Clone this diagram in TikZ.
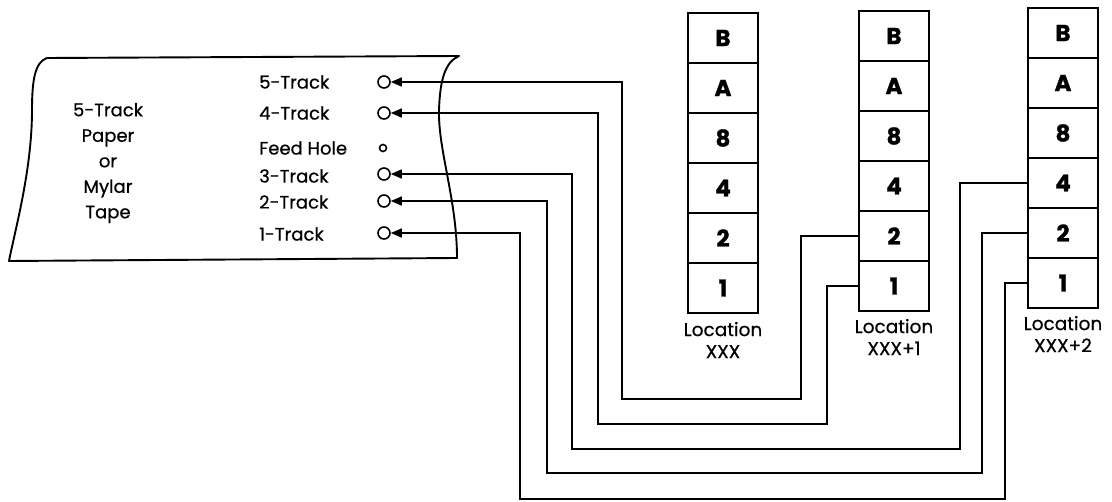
\documentclass[tikz,border=0pt]{standalone}
\usepackage{fontspec}
\setmainfont{Poppins}[FakeBold=1.2]
\newfontfamily\medfont{Poppins}[FakeBold=0.6]
\usetikzlibrary{arrows.meta}
\begin{document}
\begin{tikzpicture}[x=1pt,y=-1pt,
  outline/.style={line width=1.9pt},
  wire/.style={line width=1.6pt},
  feedwire/.style={wire,-{Triangle[length=11pt,width=9pt]}},
  hole/.style={circle,draw,line width=1.6pt,minimum size=12pt,inner sep=0pt},
  smallhole/.style={circle,draw,line width=1.6pt,minimum size=7pt,inner sep=0pt},
  cell/.style={draw,line width=1.6pt,minimum width=70pt,minimum height=50pt,inner sep=0pt,font=\fontsize{23}{23}\selectfont\bfseries},
  lbl/.style={font=\fontsize{18}{18}\medfont,anchor=west,inner sep=0pt},
  loc/.style={font=\fontsize{18.5}{22}\medfont,align=center,inner sep=0pt}]
\useasboundingbox (0,0) rectangle (1112,502);
% tape
\draw[outline,line join=round] (47,58) -- (459,56)
  .. controls (445,62) and (440,80) .. (439,110)
  .. controls (438,150) and (457,200) .. (457,258)
  -- (9,261)
  .. controls (15,230) and (32,170) .. (32,110)
  .. controls (32,80) and (35,62) .. (47,58) -- cycle;
\node[font=\fontsize{18}{25.5}\medfont,align=center,inner sep=0pt] (tapetxt) at (108,163) {5-Track\\Paper\\or\\Mylar\\Tape};
% holes
\node[hole] (h5) at (384,82) {};
\node[hole] (h4) at (384,113) {};
\node[smallhole] (hf) at (383,148) {};
\node[hole] (h3) at (384,174) {};
\node[hole] (h2) at (384,201) {};
\node[hole] (h1) at (384,233) {};
\node[lbl] (l5) at (259,82) {5-Track};
\node[lbl] (l4) at (259,113) {4-Track};
\node[lbl] (lf) at (259,148) {Feed Hole};
\node[lbl] (l3) at (259,176) {3-Track};
\node[lbl] (l2) at (259,202) {2-Track};
\node[lbl] (l1) at (259,234) {1-Track};
% memory columns
\foreach \c/\x/\t in {a/723/13, b/894/11, c/1063/8} {
  \foreach \v [count=\i from 0] in {B,A,8,4,2,1} {
    \node[cell] (\c-\v) at (\x,\t+25+50*\i) {\v};
  }
}
\node[loc,anchor=north] (la) at ([yshift=-8pt]a-1.south) {Location\\XXX};
\node[loc,anchor=north] (lb) at ([yshift=-7pt]b-1.south) {Location\\XXX+1};
\node[loc,anchor=north] (lc) at ([yshift=-7pt]c-1.south) {Location\\XXX+2};
% wires
\draw[feedwire] (b-2.west) -| (801,399) -- (622,399) |- (h5.east);
\draw[feedwire] (b-1.west) -| (827,424) -- (598,424) |- (h4.east);
\draw[feedwire] (c-4.west) -| (960,449) -- (572,449) |- (h3.east);
\draw[feedwire] (c-2.west) -| (982,473) -- (547,473) |- (h2.east);
\draw[feedwire] (c-1.west) -| (1005,499) -- (520,499) |- (h1.east);
\end{tikzpicture}
\end{document}
